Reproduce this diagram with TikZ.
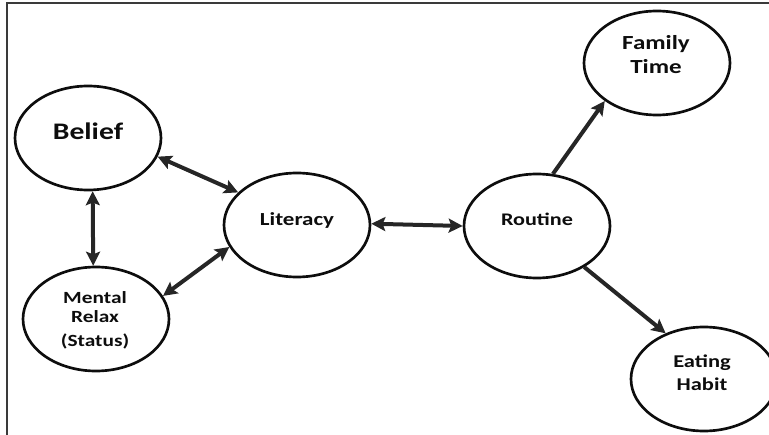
\documentclass[tikz,border=0pt]{standalone}
\usepackage{fontspec}
\setmainfont{Carlito}[FakeStretch=1.25]
\usetikzlibrary{arrows.meta,shapes.geometric}
\definecolor{ink}{HTML}{0D0D0D}
\definecolor{arrowink}{HTML}{262626}
\definecolor{frameink}{HTML}{3A3A3A}
\begin{document}
\begin{tikzpicture}[x=0.75pt,y=-0.75pt,
  bubble/.style={ellipse,draw=ink,line width=2pt,inner sep=0pt,
    minimum width=109.5pt,minimum height=78pt},
  caption/.style={anchor=base,inner sep=0pt,font=\bfseries\fontsize{12.5}{14}\selectfont,text=ink},
  sized/.style={caption,font=\bfseries\fontsize{#1}{#1}\selectfont},
  link/.style={draw=arrowink,line width=3pt,-{Stealth[length=10.5pt,width=10.5pt,inset=2pt]}},
  twoway/.style={link,{Stealth[length=10.5pt,width=10.5pt,inset=2pt]}-{Stealth[length=10.5pt,width=10.5pt,inset=2pt]}}]
  \useasboundingbox (0,0) rectangle (769,435);
  \begin{scope}
    \clip (0,0) rectangle (769,435);
    % outer frame
    \draw[frameink,line width=1.5pt] (6.5,440) -- (6.5,3) -- (775,3);

    % topic bubbles
    \node[bubble] (belief) at (88,138) {};
    \node[bubble] (mental) at (96,319) {};
    \node[bubble] (lit) at (297,225) {};
    \node[bubble] (routine) at (537,226) {};
    \node[bubble] (family) at (657,63) {};
    \node[bubble] (eating) at (704,379) {};

    % bubble texts
    \node[sized=17.8] (tBelief) at (88,139.3) {Belief};
    \node[sized=12.8] (tMental) at (95,303.3) {Mental};
    \node[sized=12.8] (tRelax) at (95,322.3) {Relax};
    \node[sized=12.8] (tStatus) at (95,346) {(Status)};
    \node[sized=13.8] (tLit) at (297,225) {Literacy};
    \node[sized=13.3] (tRoutine) at (537,226) {Routine};
    \node[sized=15] (tFamily) at (656,50) {Family};
    \node[sized=15] (tTime) at (656,74) {Time};
    \node[sized=13.5] (tEating) at (702,368) {Eating};
    \node[sized=13.5] (tHabit) at (702,390) {Habit};

    % connectors
    \draw[twoway] (belief.-15) -- (lit.151);
    \draw[twoway] (belief.-85) -- (mental.93);
    \draw[twoway] (mental.19) -- (lit.-162);
    \draw[twoway] (lit.1) -- (routine.180);
    \draw[link] (routine.73) -- (family.-144);
    \draw[link] (routine.-41) -- (eating.130);
  \end{scope}
\end{tikzpicture}
\end{document}
